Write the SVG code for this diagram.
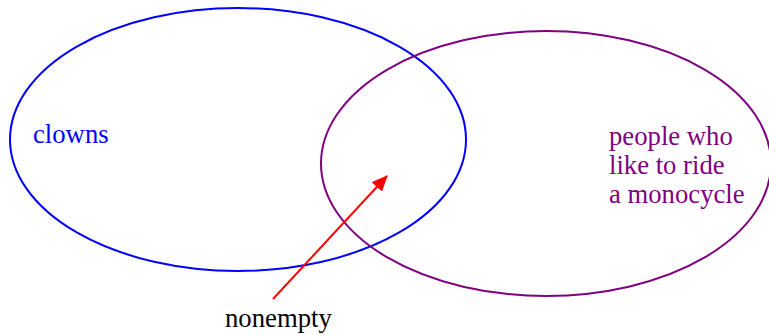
<svg xmlns="http://www.w3.org/2000/svg" width="769" height="335" viewBox="0 0 769 335">
<style>
text{font-family:"Liberation Serif","Times New Roman",serif;font-size:26.7px}
.set{fill:none;stroke-width:2}
</style>
<defs>
<marker id="ah" markerUnits="userSpaceOnUse" markerWidth="16" markerHeight="14" refX="15" refY="7" orient="auto">
<path d="M0,0 L16,7 L0,14 Z" fill="#ff0000"/>
</marker>
</defs>
<rect width="769" height="335" fill="#fff"/>
<g id="clowns">
<ellipse class="set" cx="238" cy="139.5" rx="228" ry="131.5" stroke="#0000ff"/>
<text x="33" y="143" fill="#0000ff">clowns</text>
</g>
<g id="monocycle">
<ellipse class="set" cx="546" cy="163.5" rx="225" ry="132.5" stroke="#800080"/>
<text fill="#800080"><tspan x="609" y="145">people who</tspan><tspan x="609" y="174">like to ride</tspan><tspan x="609" y="203">a monocycle</tspan></text>
</g>
<g id="connectors">
<line x1="273" y1="299" x2="387" y2="176" stroke="#ff0000" stroke-width="2" marker-end="url(#ah)"/>
</g>
<g id="nonempty">
<text x="225" y="327" fill="#000">nonempty</text>
</g>
</svg>
